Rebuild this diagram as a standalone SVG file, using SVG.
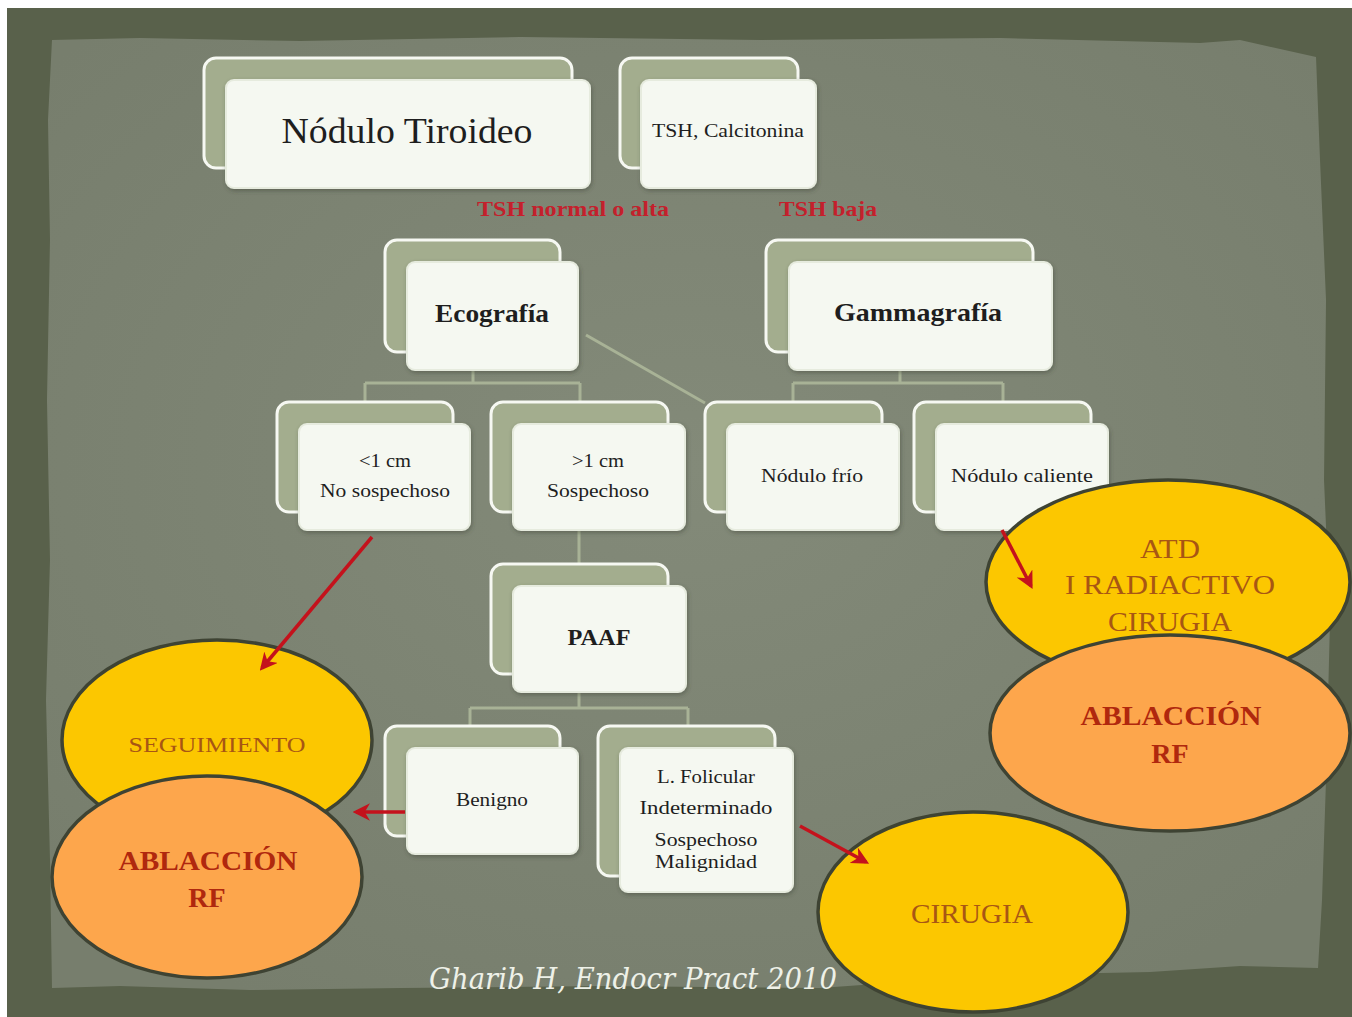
<svg xmlns="http://www.w3.org/2000/svg" width="1352" height="1017" viewBox="0 0 1352 1017">
<defs>
<style>
.back{fill:#a3ad8e;stroke:#f6f8f2;stroke-width:3}
.front{fill:#f5f8f1;stroke:#e6ebde;stroke-width:2}
.t{font-family:"Liberation Serif","DejaVu Serif",serif;fill:#1e1e1e;text-anchor:middle}
.b{font-weight:bold}
.lbl{font-family:"Liberation Serif","DejaVu Serif",serif;font-weight:bold;fill:#c4202c;text-anchor:middle;font-size:21px}
.conn{stroke:#a8b296;stroke-width:3;fill:none}
.arrow{stroke:#c4121c;stroke-width:3.5;fill:none;marker-end:url(#ah)}
.ely{fill:#fcc700;stroke:#3e4333;stroke-width:3.5}
.elo{fill:#fda64c;stroke:#3e4333;stroke-width:3.5}
.ty{font-family:"Liberation Serif","DejaVu Serif",serif;fill:#a85614;text-anchor:middle}
.to{font-family:"Liberation Serif","DejaVu Serif",serif;font-weight:bold;fill:#b0280e;text-anchor:middle;font-size:28px}
</style>
<marker id="ah" viewBox="0 0 10 10" refX="8" refY="5" markerWidth="5" markerHeight="5" orient="auto" markerUnits="strokeWidth">
<path d="M0,0 L10,5 L0,10 L3,5 z" fill="#c4121c"/>
</marker>
<radialGradient id="pg" cx="50%" cy="45%" r="65%">
<stop offset="0" stop-color="#838a79"/>
<stop offset="1" stop-color="#777e6d"/>
</radialGradient>
<filter id="sh" x="-10%" y="-10%" width="120%" height="120%">
<feDropShadow dx="1" dy="2" stdDeviation="2" flood-color="#3a3f30" flood-opacity="0.45"/>
</filter>
</defs>
<rect x="0" y="0" width="1352" height="1017" fill="#ffffff"/>
<rect x="7" y="8" width="1345" height="1009" fill="#59614b"/>
<path d="M52,40 L140,38 L300,41 L520,37 L760,40 L1000,38 L1200,43 L1240,40 L1316,57 L1320,160 L1326,300 L1324,480 L1330,620 L1326,780 L1322,900 L1318,968 L1240,966 L1150,972 L1000,975 L820,988 L600,986 L400,988 L250,990 L120,986 L52,988 L50,860 L46,700 L50,560 L47,400 L50,240 L48,120 Z" fill="url(#pg)"/>

<g id="connectors">
<path class="conn" d="M473,370 V383 M365,383 H580 M365,383 V402 M580,383 V402"/>
<path class="conn" d="M586,335 L705,403"/>
<path class="conn" d="M900,370 V383 M793,383 H1003 M793,383 V402 M1003,383 V402"/>
<path class="conn" d="M579,530 V564"/>
<path class="conn" d="M579,692 V708 M470,708 H688 M470,708 V726 M688,708 V726"/>
</g>

<g id="nodulo-tiroideo">
<rect class="back" x="204" y="58" width="368" height="110" rx="12"/>
<rect class="front" x="226" y="80" width="364" height="108" rx="8" filter="url(#sh)"/>
<text class="t" x="407" y="143" font-size="35" textLength="251" lengthAdjust="spacingAndGlyphs">Nódulo Tiroideo</text>
</g>
<g id="tsh-calcitonina">
<rect class="back" x="620" y="58" width="178" height="110" rx="12"/>
<rect class="front" x="641" y="80" width="175" height="108" rx="8" filter="url(#sh)"/>
<text class="t" x="728" y="137" font-size="18" textLength="152" lengthAdjust="spacingAndGlyphs">TSH, Calcitonina</text>
</g>
<text class="lbl" x="573" y="216" textLength="192" lengthAdjust="spacingAndGlyphs">TSH normal o alta</text>
<text class="lbl" x="828" y="216" textLength="98" lengthAdjust="spacingAndGlyphs">TSH baja</text>

<g id="ecografia">
<rect class="back" x="385" y="240" width="175" height="112" rx="12"/>
<rect class="front" x="407" y="262" width="171" height="108" rx="8" filter="url(#sh)"/>
<text class="t b" x="492" y="322" font-size="25" textLength="114" lengthAdjust="spacingAndGlyphs">Ecografía</text>
</g>
<g id="gammagrafia">
<rect class="back" x="766" y="240" width="267" height="112" rx="12"/>
<rect class="front" x="789" y="262" width="263" height="108" rx="8" filter="url(#sh)"/>
<text class="t b" x="918" y="321" font-size="25" textLength="168" lengthAdjust="spacingAndGlyphs">Gammagrafía</text>
</g>

<g id="menor-1cm">
<rect class="back" x="277" y="402" width="176" height="110" rx="12"/>
<rect class="front" x="299" y="424" width="171" height="106" rx="8" filter="url(#sh)"/>
<text class="t" x="385" y="467" font-size="19" textLength="52" lengthAdjust="spacingAndGlyphs">&lt;1 cm</text>
<text class="t" x="385" y="497" font-size="19" textLength="130" lengthAdjust="spacingAndGlyphs">No sospechoso</text>
</g>
<g id="mayor-1cm">
<rect class="back" x="491" y="402" width="177" height="110" rx="12"/>
<rect class="front" x="513" y="424" width="172" height="106" rx="8" filter="url(#sh)"/>
<text class="t" x="598" y="467" font-size="19" textLength="52" lengthAdjust="spacingAndGlyphs">&gt;1 cm</text>
<text class="t" x="598" y="497" font-size="19" textLength="102" lengthAdjust="spacingAndGlyphs">Sospechoso</text>
</g>
<g id="nodulo-frio">
<rect class="back" x="705" y="402" width="177" height="110" rx="12"/>
<rect class="front" x="727" y="424" width="172" height="106" rx="8" filter="url(#sh)"/>
<text class="t" x="812" y="482" font-size="19" textLength="102" lengthAdjust="spacingAndGlyphs">Nódulo frío</text>
</g>
<g id="nodulo-caliente">
<rect class="back" x="914" y="402" width="177" height="110" rx="12"/>
<rect class="front" x="936" y="424" width="172" height="106" rx="8" filter="url(#sh)"/>
<text class="t" x="1022" y="482" font-size="19" textLength="142" lengthAdjust="spacingAndGlyphs">Nódulo caliente</text>
</g>

<g id="paaf">
<rect class="back" x="491" y="564" width="177" height="110" rx="12"/>
<rect class="front" x="513" y="586" width="173" height="106" rx="8" filter="url(#sh)"/>
<text class="t b" x="599" y="645" font-size="23" textLength="63" lengthAdjust="spacingAndGlyphs">PAAF</text>
</g>
<g id="benigno">
<rect class="back" x="385" y="726" width="175" height="110" rx="12"/>
<rect class="front" x="407" y="748" width="171" height="106" rx="8" filter="url(#sh)"/>
<text class="t" x="492" y="806" font-size="18" textLength="72" lengthAdjust="spacingAndGlyphs">Benigno</text>
</g>
<g id="folicular">
<rect class="back" x="598" y="726" width="177" height="150" rx="12"/>
<rect class="front" x="620" y="748" width="173" height="144" rx="8" filter="url(#sh)"/>
<text class="t" x="706" y="783" font-size="19" textLength="98" lengthAdjust="spacingAndGlyphs">L. Folicular</text>
<text class="t" x="706" y="814" font-size="19" textLength="133" lengthAdjust="spacingAndGlyphs">Indeterminado</text>
<text class="t" x="706" y="846" font-size="19" textLength="103" lengthAdjust="spacingAndGlyphs">Sospechoso</text>
<text class="t" x="706" y="868" font-size="19" textLength="102" lengthAdjust="spacingAndGlyphs">Malignidad</text>
</g>

<g id="atd">
<ellipse class="ely" cx="1168" cy="582" rx="182" ry="102"/>
<text class="ty" x="1170" y="558" font-size="28" textLength="60" lengthAdjust="spacingAndGlyphs">ATD</text>
<text class="ty" x="1170" y="594" font-size="28" textLength="210" lengthAdjust="spacingAndGlyphs">I RADIACTIVO</text>
<text class="ty" x="1170" y="631" font-size="28" textLength="124" lengthAdjust="spacingAndGlyphs">CIRUGIA</text>
</g>
<g id="ablacion-der">
<ellipse class="elo" cx="1170" cy="733" rx="180" ry="98"/>
<text class="to" x="1171" y="725" textLength="181" lengthAdjust="spacingAndGlyphs">ABLACCIÓN</text>
<text class="to" x="1170" y="763">RF</text>
</g>
<g id="seguimiento">
<ellipse class="ely" cx="217" cy="740" rx="155" ry="100"/>
<text class="ty" x="217" y="752" font-size="22" textLength="177" lengthAdjust="spacingAndGlyphs">SEGUIMIENTO</text>
</g>
<g id="ablacion-izq">
<ellipse class="elo" cx="207" cy="877" rx="155" ry="101"/>
<text class="to" x="208" y="870" textLength="179" lengthAdjust="spacingAndGlyphs">ABLACCIÓN</text>
<text class="to" x="207" y="907">RF</text>
</g>
<g id="cirugia">
<ellipse class="ely" cx="973" cy="912" rx="155" ry="100"/>
<text class="ty" x="972" y="923" font-size="27" textLength="122" lengthAdjust="spacingAndGlyphs">CIRUGIA</text>
</g>

<g id="arrows">
<path class="arrow" d="M372,537 L262,668"/>
<path class="arrow" d="M405,812 L356,812"/>
<path class="arrow" d="M800,826 L866,862"/>
<path class="arrow" d="M1002,530 L1031,586"/>
</g>

<text x="633" y="989" font-family="'DejaVu Serif','Liberation Serif',serif" font-style="italic" font-size="30" fill="#eef1e8" text-anchor="middle" textLength="408" lengthAdjust="spacingAndGlyphs">Gharib H, Endocr Pract 2010</text>
</svg>
